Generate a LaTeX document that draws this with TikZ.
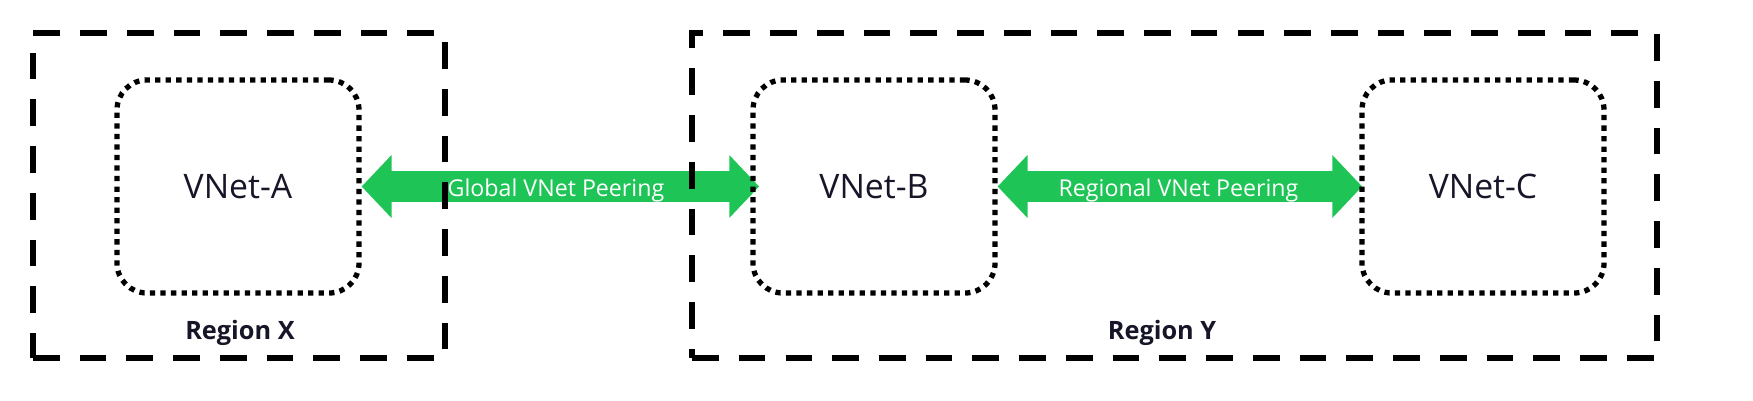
\documentclass[tikz,border=0pt]{standalone}
\usepackage{fontspec}
\setmainfont{Open Sans}
\usetikzlibrary{arrows.meta,positioning}
\definecolor{peergreen}{RGB}{30,196,86}
\definecolor{inktext}{RGB}{22,22,40}
\pgfdeclarelayer{bg}
\pgfsetlayers{bg,main}
\tikzset{
  region/.style={draw,line width=1.9pt,dash pattern=on 7.6pt off 5.7pt},
  vnet/.style={draw,line width=1.5pt,dash pattern=on 1.5pt off 1.5pt,rounded corners=8.5pt,
    minimum width=24.2mm,minimum height=21.3mm,text=inktext,font=\fontsize{9.6}{11}\selectfont},
  reglabel/.style={text=inktext,font=\bfseries\fontsize{7.2}{9}\selectfont},
  peer/.style={peergreen,line width=8.8pt,{Triangle[length=8.5pt,width=17.4pt]}-{Triangle[length=8.5pt,width=17.4pt]}},
  peerlabel/.style={text=white,font=\fontsize{6.6}{8}\selectfont}
}
\begin{document}
\begin{tikzpicture}[x=0.1mm,y=-0.1mm]
  \useasboundingbox (0,0) rectangle (1753,400);
  % regions
  \node[region,minimum width=41.2mm,minimum height=32.5mm](regX) at (239,195.5){};
  \node[region,minimum width=96.5mm,minimum height=32.5mm](regY) at (1174.5,195.5){};
  \node[reglabel](labX) at (240,333){Region X};
  \node[reglabel](labY) at (1162,333){Region Y};
  % vnets
  \node[vnet](vnetA) at (238,186.5){VNet-A};
  \node[vnet](vnetB) at (874,186.5){VNet-B};
  \node[vnet](vnetC) at (1483,186.5){VNet-C};
  % peerings
  \begin{pgfonlayer}{bg}
    \draw[peer,shorten >=-2.5pt](vnetA.east)--(vnetB.west)node[peerlabel,pos=.5,yshift=-1pt]{Global VNet Peering};
    \draw[peer,shorten >=-0.8pt](vnetB.east)--(vnetC.west)node[peerlabel,midway,yshift=-1pt]{Regional VNet Peering};
  \end{pgfonlayer}
\end{tikzpicture}
\end{document}
